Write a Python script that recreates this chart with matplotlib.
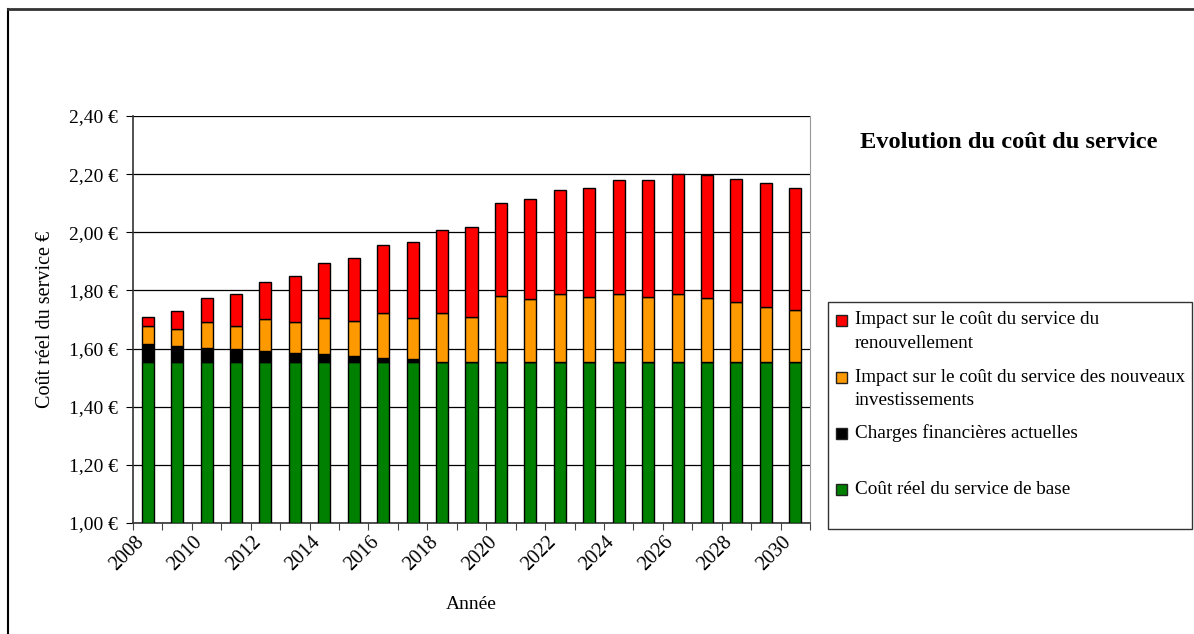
import numpy as np
import matplotlib.pyplot as plt
from matplotlib.patches import Rectangle
from matplotlib.lines import Line2D
from matplotlib.ticker import FuncFormatter

plt.rcParams['font.family'] = ['Liberation Serif', 'DejaVu Serif']

# données (€)
annees = list(range(2008, 2031))
base = [1.555] * 23
charges = [0.060, 0.053, 0.047, 0.043, 0.037, 0.031, 0.025, 0.020, 0.014, 0.008,
           0, 0, 0, 0, 0, 0, 0, 0, 0, 0, 0, 0, 0]
# sommets cumulés des segments orange et rouge
haut_invest = [1.676, 1.667, 1.690, 1.678, 1.702, 1.690, 1.706, 1.696, 1.721, 1.705,
               1.721, 1.710, 1.782, 1.772, 1.787, 1.777, 1.788, 1.778, 1.788, 1.773,
               1.761, 1.744, 1.732]
haut_total = [1.708, 1.730, 1.775, 1.786, 1.830, 1.851, 1.894, 1.911, 1.956, 1.968,
              2.007, 2.018, 2.102, 2.113, 2.147, 2.152, 2.180, 2.180, 2.201, 2.196,
              2.185, 2.169, 2.152]

base = np.array(base)
charges = np.array(charges)
invest = np.array(haut_invest) - base - charges
renouv = np.array(haut_total) - np.array(haut_invest)

noms = ["Impact sur le coût du service du\nrenouvellement",
        "Impact sur le coût du service des nouveaux\ninvestissements",
        "Charges financières actuelles",
        "Coût réel du service de base"]
couleurs = ["#ff0000", "#ff9900", "#000000", "#008000"]

fig = plt.figure(figsize=(11.94, 6.34), dpi=100)
ax = fig.add_axes([133 / 1194, 1 - 523 / 634, 677 / 1194, 407 / 634])

x = np.arange(len(annees))
w = 0.41
kw = dict(width=w, edgecolor="black", linewidth=1, zorder=3)
ax.bar(x, base - 1.0, bottom=1.0, color=couleurs[3], **kw)
ax.bar(x, charges, bottom=base, color=couleurs[2], **kw)
ax.bar(x, invest, bottom=base + charges, color=couleurs[1], **kw)
ax.bar(x, renouv, bottom=np.array(haut_invest), color=couleurs[0], **kw)

ax.set_xlim(-0.5, len(annees) - 0.5)
ax.set_ylim(1.0, 2.4)
ax.set_yticks(np.arange(1.0, 2.41, 0.2))
ax.yaxis.set_major_formatter(FuncFormatter(lambda v, p: f"{v:.2f} €".replace(".", ",")))
ax.yaxis.grid(True, color="black", linewidth=0.9, zorder=0)

ax.set_xticks(np.arange(-0.5, len(annees), 1.0), minor=False)
ax.set_xticklabels([])
ax.set_xticks(x[::2], minor=True)
ax.set_xticklabels([str(a) for a in annees[::2]], minor=True, rotation=45,
                   ha="right", va="top", fontsize=14.5)
ax.tick_params(axis="x", which="major", length=5, direction="out", color="#444444")
ax.tick_params(axis="x", which="minor", length=0, pad=7)
ax.tick_params(axis="y", length=5, direction="out", labelsize=14, pad=6)

for s in ["left", "bottom"]:
    ax.spines[s].set_color("#333333")
    ax.spines[s].set_linewidth(1.2)
ax.spines["top"].set_visible(False)
ax.spines["right"].set_color("#999999")

ax.set_xlabel("Année", fontsize=14, labelpad=15)
ax.set_ylabel("Coût réel du service €", fontsize=14.5, labelpad=10)

fig.text(1009 / 1194, 1 - 143 / 634, "Evolution du coût du service", fontsize=17.6,
         fontweight="bold", ha="center", va="center")

# cadre extérieur (haut et gauche)
fig.add_artist(Line2D([8 / 1194, 8 / 1194], [0, 1 - 9 / 634], color="black", linewidth=1.5))
fig.add_artist(Line2D([8 / 1194, 1], [1 - 9 / 634, 1 - 9 / 634], color="#333333", linewidth=2))

# légende
fig.add_artist(Rectangle((828 / 1194, 1 - 529 / 634), 364 / 1194, 227 / 634,
                         transform=fig.transFigure, facecolor="white",
                         edgecolor="#333333", linewidth=1))
centres = [320, 377, 433, 489]
for nom, c, yc in zip(noms, couleurs, centres):
    fig.add_artist(Rectangle((836 / 1194, 1 - (yc + 5.5) / 634), 11 / 1194, 11 / 634,
                             transform=fig.transFigure, facecolor=c,
                             edgecolor="#222222", linewidth=1))
    for i, ligne in enumerate(nom.split("\n")):
        fig.text(855 / 1194, 1 - (yc + 23.4 * i) / 634, ligne, fontsize=13.8,
                 ha="left", va="center")

fig.savefig("out.png", dpi=100)
